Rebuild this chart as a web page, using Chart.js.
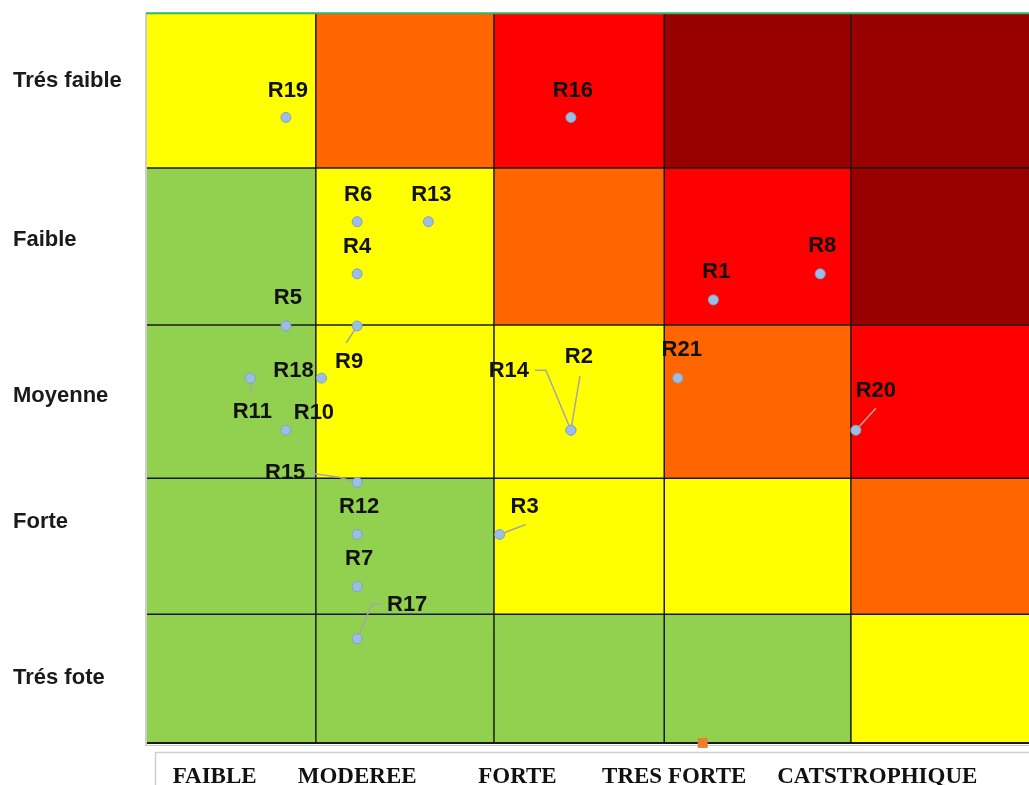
<!DOCTYPE html>
<html>
<head>
<meta charset="utf-8">
<script src="https://cdn.jsdelivr.net/npm/chart.js@4.4.0/dist/chart.umd.min.js"></script>
<style>
    html, body { margin: 0; padding: 0; background: #ffffff; }
</style>
</head>
<body>
<canvas id="riskChart" width="1029" height="785"></canvas>
<script>
// Risk points (impact on x, probability on y)
const riskNames = ['R1', 'R2', 'R3', 'R4', 'R5', 'R6', 'R7', 'R8', 'R9', 'R10', 'R11',
    'R12', 'R13', 'R14', 'R15', 'R16', 'R17', 'R18', 'R19', 'R20', 'R21'];
const impactValues = [8, 6, 5, 3, 2, 3, 3, 9.5, 3, 2, 1.5, 3, 4, 6, 3, 6, 3, 2.5, 2, 10, 7.5];
const probabilityValues = [8.5, 6, 4, 9, 8, 10, 3, 9, 8, 6, 7, 4, 10, 6, 5, 12, 2, 7, 12, 6, 7];

// lone orange marker sitting on the axis
const markerX = [7.85];
const markerY = [0];

// axis labels
const impactLabels = ['FAIBLE', 'MODEREE', 'FORTE', 'TRES FORTE', 'CATSTROPHIQUE'];
const impactTicks = [1, 3, 5.25, 7.45, 10.3];
const probabilityLabels = ['Trés faible', 'Faible', 'Moyenne', 'Forte', 'Trés fote'];
const probabilityTicks = [12.7, 9.65, 6.65, 4.25, 1.25];

// background matrix (edges in data units, rows top to bottom)
const colEdges = [0.05, 2.42, 4.92, 7.31, 9.93, 12.43];
const rowEdges = [14, 11.03, 8.02, 5.08, 2.47, 0];
const zoneLevels = [
    [1, 2, 3, 4, 4],
    [0, 1, 2, 3, 4],
    [0, 1, 1, 2, 3],
    [0, 0, 1, 1, 2],
    [0, 0, 0, 0, 1]
];
const zoneColors = ['#92d050', '#ffff00', '#ff6600', '#ff0000', '#990000'];

// label placement (pixels, relative to the point) and leader lines
const labelOffsets = [
    [3, -28], [8, -73], [25, -28], [0, -27], [2, -28], [1, -27], [2, -28], [2, -28],
    [-8, 36], [28, -17], [2, 34], [2, -28], [3, -27], [-62, -59], [-72, -9], [2, -27],
    [50, -34], [-28, -7], [2, -27], [20, -39], [4, -28]
];
const leaderLines = {
    'R2': [[9, -54], [0, 0]],
    'R3': [[26, -10], [0, 0]],
    'R9': [[-11, 17], [0, 0]],
    'R11': [[1, 15], [0, 0]],
    'R14': [[-36, -60], [-25, -60], [0, 0]],
    'R15': [[-46, -9], [-18, -5], [0, 0]],
    'R17': [[0, 0], [15, -35], [25, -35]],
    'R20': [[20, -22], [0, 0]]
};

const riskPoints = riskNames.map((name, i) => ({ x: impactValues[i], y: probabilityValues[i] }));
const markerPoints = markerX.map((x, i) => ({ x: x, y: markerY[i] }));

// Draws the coloured matrix behind the points
const matrixPlugin = {
    id: 'matrix',
    beforeDraw(chart) {
        const ctx = chart.ctx;
        ctx.save();
        // frame of the category text box
        ctx.strokeStyle = '#cfcfcf';
        ctx.lineWidth = 1.5;
        ctx.strokeRect(155.5, 752.5, 1000, 100);
        ctx.restore();
    },
    beforeDatasetsDraw(chart) {
        const ctx = chart.ctx;
        const xs = chart.scales.x;
        const ys = chart.scales.y;
        ctx.save();
        for (let r = 0; r < zoneLevels.length; r++) {
            for (let c = 0; c < zoneLevels[r].length; c++) {
                const x0 = xs.getPixelForValue(colEdges[c]);
                const x1 = xs.getPixelForValue(colEdges[c + 1]);
                const y0 = ys.getPixelForValue(rowEdges[r]);
                const y1 = ys.getPixelForValue(rowEdges[r + 1]);
                ctx.fillStyle = zoneColors[zoneLevels[r][c]];
                ctx.fillRect(x0, y0, x1 - x0, y1 - y0);
            }
        }
        const left = xs.getPixelForValue(colEdges[0]);
        const right = xs.getPixelForValue(colEdges[colEdges.length - 1]);
        const top = ys.getPixelForValue(rowEdges[0]);
        const bottom = ys.getPixelForValue(rowEdges[rowEdges.length - 1]);

        ctx.strokeStyle = '#1a1a1a';
        ctx.lineWidth = 1.5;
        for (let c = 1; c < colEdges.length - 1; c++) {
            const x = xs.getPixelForValue(colEdges[c]);
            ctx.beginPath();
            ctx.moveTo(x, top);
            ctx.lineTo(x, bottom);
            ctx.stroke();
        }
        for (let r = 1; r < rowEdges.length - 1; r++) {
            const y = ys.getPixelForValue(rowEdges[r]);
            ctx.beginPath();
            ctx.moveTo(left, y);
            ctx.lineTo(right, y);
            ctx.stroke();
        }
        // bottom edge + faint shadow
        ctx.lineWidth = 2;
        ctx.beginPath();
        ctx.moveTo(left, bottom);
        ctx.lineTo(right, bottom);
        ctx.stroke();
        ctx.strokeStyle = '#c8c8c8';
        ctx.lineWidth = 1;
        ctx.beginPath();
        ctx.moveTo(left - 2, bottom + 2.5);
        ctx.lineTo(right, bottom + 2.5);
        ctx.stroke();
        // left edge
        ctx.strokeStyle = '#bdbdbd';
        ctx.lineWidth = 1.5;
        ctx.beginPath();
        ctx.moveTo(left - 1, top);
        ctx.lineTo(left - 1, bottom + 2);
        ctx.stroke();
        // green top edge
        ctx.strokeStyle = '#2fb56a';
        ctx.lineWidth = 2;
        ctx.beginPath();
        ctx.moveTo(left - 1, top);
        ctx.lineTo(right, top);
        ctx.stroke();

        // leader lines
        const meta = chart.getDatasetMeta(0);
        ctx.strokeStyle = '#a6a6a6';
        ctx.lineWidth = 1.5;
        riskNames.forEach((name, i) => {
            const path = leaderLines[name];
            if (!path) return;
            const pt = meta.data[i];
            ctx.beginPath();
            path.forEach((p, k) => {
                if (k === 0) ctx.moveTo(pt.x + p[0], pt.y + p[1]);
                else ctx.lineTo(pt.x + p[0], pt.y + p[1]);
            });
            ctx.stroke();
        });
        ctx.restore();
    },
    afterDatasetsDraw(chart) {
        const ctx = chart.ctx;
        const meta = chart.getDatasetMeta(0);
        ctx.save();
        ctx.font = 'bold 22px "Liberation Sans", Arial, sans-serif';
        ctx.fillStyle = '#111111';
        ctx.textAlign = 'center';
        ctx.textBaseline = 'middle';
        riskNames.forEach((name, i) => {
            const pt = meta.data[i];
            ctx.fillText(name, pt.x + labelOffsets[i][0], pt.y + labelOffsets[i][1]);
        });
        ctx.restore();
    }
};

const ctx = document.getElementById('riskChart').getContext('2d');
new Chart(ctx, {
    type: 'scatter',
    data: {
        datasets: [{
            label: 'Risques',
            data: riskPoints,
            pointRadius: 5,
            pointHoverRadius: 5,
            backgroundColor: '#9dbde3',
            borderColor: '#7ea3d3',
            borderWidth: 1
        }, {
            label: 'Repère',
            data: markerPoints,
            pointStyle: 'rect',
            pointRadius: 7,
            pointHoverRadius: 7,
            backgroundColor: '#ed7d31',
            borderColor: '#ed7d31',
            borderWidth: 0,
            clip: false
        }]
    },
    options: {
        responsive: false,
        devicePixelRatio: 1,
        animation: false,
        layout: {
            autoPadding: false,
            padding: { left: 13, top: 13, right: 0, bottom: 0 }
        },
        plugins: {
            legend: { display: false },
            tooltip: { enabled: false }
        },
        scales: {
            x: {
                type: 'linear',
                min: colEdges[0],
                max: colEdges[colEdges.length - 1],
                grid: { display: false },
                border: { display: false },
                afterBuildTicks: function(scale) {
                    scale.ticks = impactTicks.map(v => ({ value: v }));
                },
                afterFit: function(scale) {
                    scale.height = 42;
                },
                ticks: {
                    autoSkip: false,
                    maxRotation: 0,
                    padding: 12,
                    color: '#111111',
                    font: { family: '"Liberation Serif", "Times New Roman", serif', weight: 'bold', size: 23 },
                    callback: function(value) {
                        return impactLabels[impactTicks.indexOf(value)];
                    }
                }
            },
            y: {
                type: 'linear',
                min: rowEdges[rowEdges.length - 1],
                max: rowEdges[0],
                grid: { display: false },
                border: { display: false },
                afterBuildTicks: function(scale) {
                    scale.ticks = probabilityTicks.slice().reverse().map(v => ({ value: v }));
                },
                afterFit: function(scale) {
                    scale.width = 134;
                },
                ticks: {
                    autoSkip: false,
                    crossAlign: 'far',
                    padding: 0,
                    color: '#1a1a1a',
                    font: { family: '"Liberation Sans", Arial, sans-serif', weight: 'bold', size: 22 },
                    callback: function(value) {
                        return probabilityLabels[probabilityTicks.indexOf(value)];
                    }
                }
            }
        }
    },
    plugins: [matrixPlugin]
});
</script>
</body>
</html>
